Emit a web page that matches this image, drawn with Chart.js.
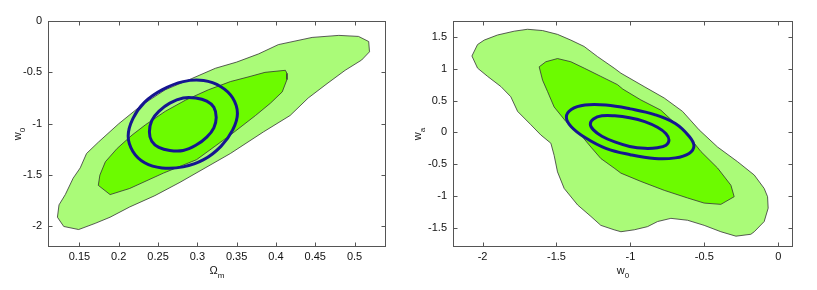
<!DOCTYPE html>
<html>
<head>
<meta charset="utf-8">
<script src="https://cdn.jsdelivr.net/npm/chart.js@4.4.1/dist/chart.umd.min.js"></script>
<style>
  html, body { margin: 0; padding: 0; background: #fff; }
  #wrap { position: relative; width: 817px; height: 290px; }
  .panel { position: absolute; top: 0; height: 290px; }
  #left { left: 0; width: 408px; }
  #right { left: 408px; width: 409px; }
</style>
</head>
<body>
<div id="wrap">
  <div class="panel" id="left"><canvas id="chartLeft" width="408" height="290"></canvas></div>
  <div class="panel" id="right"><canvas id="chartRight" width="409" height="290"></canvas></div>
</div>
<script>
// tick labels
const omTicks = [0.15, 0.2, 0.25, 0.3, 0.35, 0.4, 0.45, 0.5];
const w0TicksLeft = [-2, -1.5, -1, -0.5, 0];
const w0TicksRight = [-2, -1.5, -1, -0.5, 0];
const waTicks = [-1.5, -1, -0.5, 0, 0.5, 1, 1.5];

// left panel: Omega_m vs w0
const leftOuterOm = [0.130, 0.122, 0.124, 0.132, 0.142, 0.151, 0.159, 0.174, 0.200, 0.229, 0.259, 0.293, 0.323, 0.350, 0.378, 0.403, 0.446, 0.480, 0.505, 0.518, 0.519, 0.509, 0.488, 0.465, 0.441, 0.418, 0.384, 0.342, 0.278, 0.246, 0.214, 0.189, 0.170, 0.149];
const leftOuterW0 = [-2.00, -1.91, -1.79, -1.69, -1.53, -1.43, -1.29, -1.18, -1.00, -0.82, -0.67, -0.56, -0.46, -0.40, -0.32, -0.23, -0.16, -0.14, -0.15, -0.20, -0.30, -0.38, -0.48, -0.61, -0.75, -0.92, -1.08, -1.29, -1.57, -1.70, -1.81, -1.91, -1.97, -2.03];

const leftInnerOm = [0.174, 0.176, 0.183, 0.198, 0.217, 0.234, 0.259, 0.285, 0.314, 0.342, 0.367, 0.386, 0.412, 0.414, 0.414, 0.408, 0.393, 0.374, 0.342, 0.299, 0.257, 0.214, 0.189];
const leftInnerW0 = [-1.60, -1.50, -1.37, -1.24, -1.11, -1.01, -0.88, -0.77, -0.67, -0.59, -0.54, -0.50, -0.48, -0.51, -0.57, -0.69, -0.80, -0.92, -1.11, -1.35, -1.48, -1.63, -1.69];

const leftBigEllOm = [0.351, 0.345, 0.330, 0.308, 0.282, 0.255, 0.233, 0.218, 0.212, 0.218, 0.233, 0.255, 0.282, 0.308, 0.330, 0.345];
const leftBigEllW0 = [-0.90, -0.75, -0.64, -0.58, -0.59, -0.67, -0.79, -0.95, -1.12, -1.27, -1.38, -1.43, -1.42, -1.35, -1.22, -1.06];

const leftSmallEllOm = [0.324, 0.321, 0.312, 0.298, 0.282, 0.265, 0.251, 0.242, 0.239, 0.242, 0.251, 0.265, 0.282, 0.298, 0.312, 0.321];
const leftSmallEllW0 = [-0.94, -0.84, -0.78, -0.75, -0.75, -0.80, -0.88, -0.97, -1.08, -1.17, -1.23, -1.26, -1.26, -1.21, -1.13, -1.04];

// right panel: w0 vs wa
const rightOuterW0 = [-2.072, -2.034, -1.989, -1.899, -1.786, -1.696, -1.594, -1.493, -1.403, -1.313, -1.222, -1.110, -1.064, -0.907, -0.771, -0.647, -0.535, -0.410, -0.275, -0.162, -0.095, -0.072, -0.068, -0.095, -0.162, -0.185, -0.286, -0.388, -0.501, -0.613, -0.726, -0.816, -0.884, -0.974, -1.064, -1.110, -1.200, -1.267, -1.357, -1.448, -1.493, -1.516, -1.538, -1.606, -1.673, -1.763, -1.809, -1.876, -1.966, -2.034];
const rightOuterWa = [1.20, 1.38, 1.45, 1.53, 1.59, 1.62, 1.60, 1.54, 1.45, 1.35, 1.19, 1.01, 0.93, 0.72, 0.54, 0.33, 0.04, -0.23, -0.46, -0.67, -0.88, -1.01, -1.19, -1.40, -1.56, -1.60, -1.63, -1.56, -1.46, -1.38, -1.35, -1.40, -1.48, -1.53, -1.56, -1.53, -1.46, -1.32, -1.14, -0.88, -0.62, -0.36, -0.17, -0.04, 0.12, 0.33, 0.56, 0.72, 0.88, 1.01];

const rightInnerW0 = [-1.617, -1.572, -1.493, -1.403, -1.313, -1.200, -1.087, -1.051, -0.929, -0.794, -0.613, -0.523, -0.410, -0.320, -0.298, -0.388, -0.501, -0.613, -0.771, -0.929, -1.064, -1.110, -1.200, -1.267, -1.335, -1.436, -1.516, -1.560, -1.594];
const rightInnerWa = [1.03, 1.11, 1.16, 1.11, 1.01, 0.88, 0.75, 0.68, 0.51, 0.35, -0.04, -0.30, -0.56, -0.83, -1.01, -1.13, -1.11, -1.03, -0.91, -0.77, -0.64, -0.56, -0.41, -0.23, -0.04, 0.17, 0.40, 0.64, 0.82];

const rightBigEllW0 = [-0.570, -0.603, -0.696, -0.836, -1.001, -1.166, -1.307, -1.400, -1.433, -1.400, -1.307, -1.166, -1.001, -0.836, -0.696, -0.603];
const rightBigEllWa = [-0.21, -0.06, 0.14, 0.28, 0.37, 0.43, 0.43, 0.36, 0.24, 0.09, -0.08, -0.25, -0.35, -0.41, -0.40, -0.33];

const rightSmallEllW0 = [-0.739, -0.759, -0.817, -0.903, -1.005, -1.106, -1.193, -1.250, -1.271, -1.250, -1.193, -1.106, -1.005, -0.903, -0.817, -0.759];
const rightSmallEllWa = [-0.12, -0.02, 0.08, 0.17, 0.23, 0.26, 0.26, 0.21, 0.13, 0.04, -0.06, -0.15, -0.22, -0.25, -0.24, -0.20];

const LIGHT = '#aafb78';
const DARK = '#6cfb00';
const BLUE = '#151590';
const FONT = 'Liberation Sans, Arial, Helvetica, sans-serif';

function toPoints(xs, ys, close) {
  const p = xs.map((x, i) => ({ x: x, y: ys[i] }));
  if (close) p.push({ x: xs[0], y: ys[0] });
  return p;
}

function contour(xs, ys, color) {
  return {
    data: toPoints(xs, ys, true),
    showLine: true,
    fill: 'shape',
    backgroundColor: color,
    borderColor: '#333',
    borderWidth: 0.8,
    pointRadius: 0,
    tension: 0
  };
}

function ellipse(xs, ys) {
  return {
    data: toPoints(xs, ys, false),
    showLine: true,
    fill: false,
    borderColor: BLUE,
    borderWidth: 3,
    pointRadius: 0,
    tension: 0.4,
    closed: true
  };
}

// smooth closed curves for the ellipses (same trick the radar chart uses)
const closeLoop = {
  id: 'closeLoop',
  afterDatasetUpdate(chart, args) {
    const ds = chart.data.datasets[args.index];
    if (!ds.closed) return;
    const line = chart.getDatasetMeta(args.index).dataset;
    if (line) { line._loop = true; line._fullLoop = true; }
  }
};

// matlab style box with inward ticks
const boxTicks = {
  id: 'boxTicks',
  afterDatasetsDraw(chart) {
    const ctx = chart.ctx;
    const a = chart.chartArea;
    const L = Math.round(a.left) + 0.5, R = Math.round(a.right) - 0.5;
    const T = Math.round(a.top) + 0.5, B = Math.round(a.bottom) - 0.5;
    ctx.save();
    ctx.strokeStyle = '#555';
    ctx.lineWidth = 1;
    ctx.strokeRect(L, T, R - L, B - T);
    ctx.beginPath();
    chart.scales.x.ticks.forEach(t => {
      const px = Math.round(chart.scales.x.getPixelForValue(t.value)) + 0.5;
      ctx.moveTo(px, B); ctx.lineTo(px, B - 4);
      ctx.moveTo(px, T); ctx.lineTo(px, T + 4);
    });
    chart.scales.y.ticks.forEach(t => {
      const py = Math.round(chart.scales.y.getPixelForValue(t.value)) + 0.5;
      ctx.moveTo(L, py); ctx.lineTo(L + 4, py);
      ctx.moveTo(R, py); ctx.lineTo(R - 4, py);
    });
    ctx.stroke();
    ctx.restore();
  }
};

// axis titles with subscripts
function drawSub(ctx, main, sub, x, y) {
  ctx.font = '11px ' + FONT;
  const wm = ctx.measureText(main).width;
  ctx.font = '8px ' + FONT;
  const ws = ctx.measureText(sub).width;
  const start = x - (wm + ws) / 2;
  ctx.font = '11px ' + FONT;
  ctx.fillText(main, start, y);
  ctx.font = '8px ' + FONT;
  ctx.fillText(sub, start + wm, y + 4);
}

const axisTitles = {
  id: 'axisTitles',
  afterDraw(chart, args, opts) {
    const ctx = chart.ctx;
    const a = chart.chartArea;
    ctx.save();
    ctx.fillStyle = '#111';
    ctx.textAlign = 'left';
    ctx.textBaseline = 'alphabetic';
    drawSub(ctx, opts.x[0], opts.x[1], (a.left + a.right) / 2, opts.xBase);
    ctx.translate(opts.yBase, (a.top + a.bottom) / 2);
    ctx.rotate(-Math.PI / 2);
    drawSub(ctx, opts.y[0], opts.y[1], 0, 0);
    ctx.restore();
  }
};

function axis(min, max, ticks, isX) {
  return {
    type: 'linear',
    min: min,
    max: max,
    afterBuildTicks: s => { s.ticks = ticks.map(v => ({ value: v })); },
    afterFit: s => { if (isX) s.height = 30; else s.width = 40; },
    grid: { display: false, drawTicks: false },
    border: { display: false },
    ticks: {
      autoSkip: false,
      maxRotation: 0,
      padding: isX ? 3 : 6,
      color: '#111',
      font: { family: FONT, size: 11 },
      callback: v => String(v)
    }
  };
}

function makeChart(id, datasets, xr, yr, xt, yt, pad, titles) {
  return new Chart(document.getElementById(id), {
    type: 'scatter',
    data: { datasets: datasets },
    options: {
      responsive: false,
      animation: false,
      layout: { padding: pad },
      scales: {
        x: axis(xr[0], xr[1], xt, true),
        y: axis(yr[0], yr[1], yt, false)
      },
      plugins: {
        legend: { display: false },
        tooltip: { enabled: false },
        axisTitles: titles
      }
    },
    plugins: [closeLoop, boxTicks, axisTitles]
  });
}

makeChart('chartLeft', [
  ellipse(leftSmallEllOm, leftSmallEllW0),
  ellipse(leftBigEllOm, leftBigEllW0),
  contour(leftInnerOm, leftInnerW0, DARK),
  contour(leftOuterOm, leftOuterW0, LIGHT)
], [0.11, 0.54], [-2.2, 0], omTicks, w0TicksLeft,
  { left: 8, top: 21, right: 22, bottom: 13 },
  { x: ['\u03A9', 'm'], y: ['w', '0'], xBase: 274, yBase: 21 });

makeChart('chartRight', [
  ellipse(rightSmallEllW0, rightSmallEllWa),
  ellipse(rightBigEllW0, rightBigEllWa),
  contour(rightInnerW0, rightInnerWa, DARK),
  contour(rightOuterW0, rightOuterWa, LIGHT)
], [-2.2, 0.1], [-1.8, 1.75], w0TicksRight, waTicks,
  { left: 5, top: 21, right: 24, bottom: 13 },
  { x: ['w', '0'], y: ['w', 'a'], xBase: 274, yBase: 13 });
</script>
</body>
</html>
